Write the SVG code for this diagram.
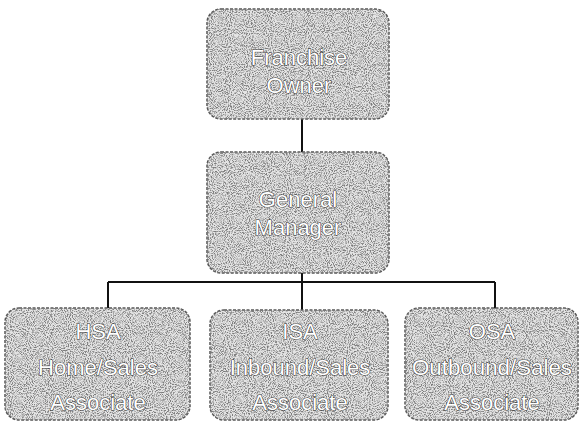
<svg xmlns="http://www.w3.org/2000/svg" width="582" height="424" viewBox="0 0 582 424">
<defs>
<filter id="grain" x="0" y="0" width="100%" height="100%">
<feTurbulence type="fractalNoise" baseFrequency="0.95" numOctaves="2" seed="3" result="n"/>
<feColorMatrix in="n" type="matrix" values="0 0 0 0 0.2  0 0 0 0 0.2  0 0 0 0 0.2  0 0 0 -3.5 2.0" result="d"/>
<feComposite in="d" in2="SourceGraphic" operator="in"/>
</filter>
</defs>
<style>
.box{fill:#e4e4e4;stroke:#555;stroke-width:1.5;stroke-dasharray:3 1.5}
.grain{fill:#000;filter:url(#grain)}
.lbl{font-family:"Liberation Sans",Arial,sans-serif;font-size:22px;fill:#fff;stroke:#333;stroke-width:1;paint-order:stroke;text-anchor:middle}
.conn{stroke:#111;stroke-width:2;fill:none}
</style>
<rect width="582" height="424" fill="#fff"/>
<g id="connectors">
<path class="conn" d="M302 118V152"/>
<path class="conn" d="M302 273V282"/>
<path class="conn" d="M108 282H495"/>
<path class="conn" d="M108 282V308"/>
<path class="conn" d="M302 282V310"/>
<path class="conn" d="M495 282V308"/>
</g>
<g id="franchise-owner">
<rect class="box" x="207" y="9" width="182" height="110" rx="14"/>
<rect class="grain" x="207" y="9" width="182" height="110" rx="14"/>
<text class="lbl" x="299" y="65">Franchise</text>
<text class="lbl" x="299" y="93">Owner</text>
</g>
<g id="general-manager">
<rect class="box" x="207" y="152" width="182" height="121" rx="14"/>
<rect class="grain" x="207" y="152" width="182" height="121" rx="14"/>
<text class="lbl" x="298" y="207">General</text>
<text class="lbl" x="298" y="235">Manager</text>
</g>
<g id="hsa">
<rect class="box" x="5" y="308" width="185" height="112" rx="14"/>
<rect class="grain" x="5" y="308" width="185" height="112" rx="14"/>
<text class="lbl" x="98" y="339">HSA</text>
<text class="lbl" x="98" y="375">Home/Sales</text>
<text class="lbl" x="98" y="410">Associate</text>
</g>
<g id="isa">
<rect class="box" x="210" y="310" width="178" height="110" rx="14"/>
<rect class="grain" x="210" y="310" width="178" height="110" rx="14"/>
<text class="lbl" x="300" y="339">ISA</text>
<text class="lbl" x="300" y="375">Inbound/Sales</text>
<text class="lbl" x="300" y="410">Associate</text>
</g>
<g id="osa">
<rect class="box" x="405" y="308" width="173" height="112" rx="14"/>
<rect class="grain" x="405" y="308" width="173" height="112" rx="14"/>
<text class="lbl" x="492" y="339">OSA</text>
<text class="lbl" x="492" y="375" textLength="160" lengthAdjust="spacingAndGlyphs">Outbound/Sales</text>
<text class="lbl" x="492" y="410">Associate</text>
</g>
</svg>
